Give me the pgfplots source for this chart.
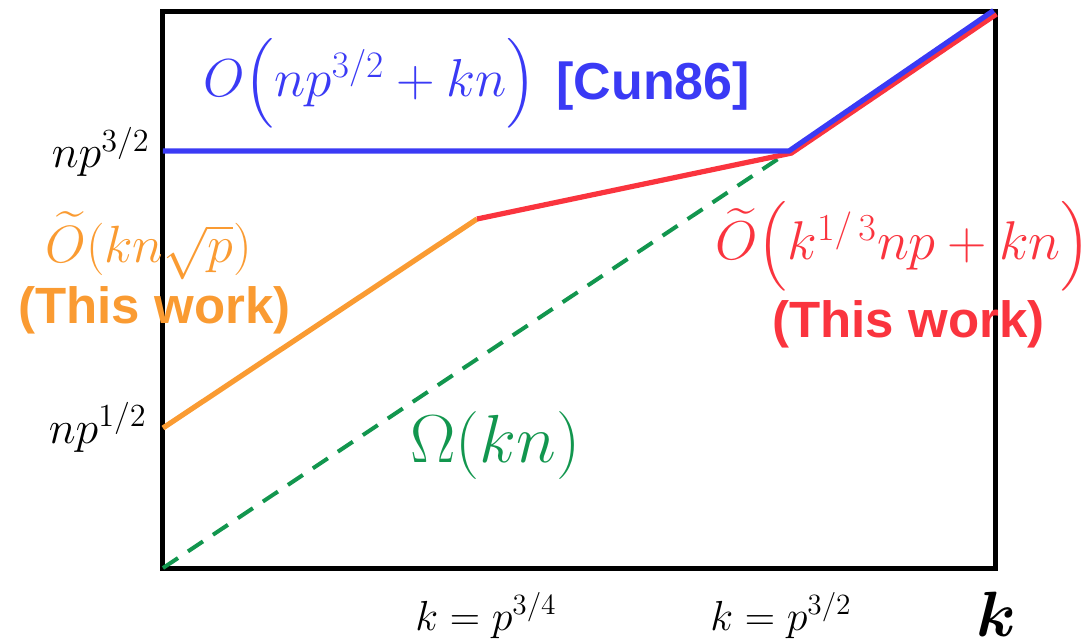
\RequirePackage{fix-cm}
\documentclass[border=0pt]{standalone}
\usepackage{amsmath}
\usepackage{fontspec}
\setsansfont{Liberation Sans}
\usepackage{pgfplots}
\pgfplotsset{compat=1.18}
\definecolor{cblue}{RGB}{58,58,245}
\definecolor{cred}{RGB}{250,52,62}
\definecolor{corange}{RGB}{250,155,50}
\definecolor{cgreen}{RGB}{18,150,78}
\begin{document}
\begin{tikzpicture}
\begin{axis}[
  scale only axis, width=416pt, height=278pt,
  xmin=163, xmax=995, ymin=75, ymax=631,
  ticks=none, axis line style={line width=2.5pt, black},
  clip=false,
]
\coordinate (bl) at (axis cs:0,0);
\coordinate (tr) at (axis cs:1082,643);
% lower bound
\addplot[cgreen, line width=2pt, dash pattern=on 9pt off 6pt] coordinates {(163,75) (790,492)};
% orange
\addplot[corange, line width=2.6pt] coordinates {(163,215) (477,424)};
% red
\addplot[cred, line width=2.6pt] coordinates {(477,424) (791.4,489.9) (996.4,628.9)};
% blue
\addplot[cblue, line width=2.6pt] coordinates {(163,492) (789,492) (993.6,632.5)};

\node[anchor=base west, text=cblue, inner sep=0pt] at (axis cs:203,546)
  {\fontsize{26.7}{32}\selectfont $O\Big(np^{3/2}+kn\Big)$};
\node[anchor=base west, text=cblue, inner sep=0pt] at (axis cs:556,543)
  {\fontsize{26}{30}\selectfont\sffamily\bfseries [Cun86]};
\node[anchor=base east, inner sep=0pt] at (axis cs:150,475)
  {\fontsize{23}{28}\selectfont $np^{3/2}$};
\node[anchor=base east, inner sep=0pt] at (axis cs:147,200)
  {\fontsize{23}{28}\selectfont $np^{1/2}$};
\node[anchor=base west, text=corange, inner sep=0pt] at (axis cs:45,381)
  {\fontsize{26.2}{31}\selectfont $\widetilde{O}(kn\sqrt{p})$};
\node[anchor=base west, text=corange, inner sep=0pt] at (axis cs:18,320)
  {\fontsize{25.5}{30}\selectfont\sffamily\bfseries (This work)};
\node[anchor=base west, text=cred, inner sep=0pt] at (axis cs:715,383)
  {\fontsize{27.3}{32}\selectfont $\widetilde{O}\Big(k^{1/\,3}np+kn\Big)$};
\node[anchor=base west, text=cred, inner sep=0pt] at (axis cs:772,306)
  {\fontsize{25.5}{30}\selectfont\sffamily\bfseries (This work)};
\node[anchor=base west, text=cgreen, inner sep=0pt] at (axis cs:410,181)
  {\fontsize{34}{40}\selectfont $\Omega(kn)$};
\node[anchor=base west, inner sep=0pt] at (axis cs:415,13)
  {\fontsize{21}{26}\selectfont $k=p^{3/4}$};
\node[anchor=base west, inner sep=0pt] at (axis cs:710,13)
  {\fontsize{21}{26}\selectfont $k=p^{3/2}$};
\node[anchor=base west, inner sep=0pt] at (axis cs:976,7)
  {\fontsize{32}{38}\selectfont $\boldsymbol{k}$};
\end{axis}
\pgfresetboundingbox
\useasboundingbox (bl) rectangle (tr);
\end{tikzpicture}
\end{document}
